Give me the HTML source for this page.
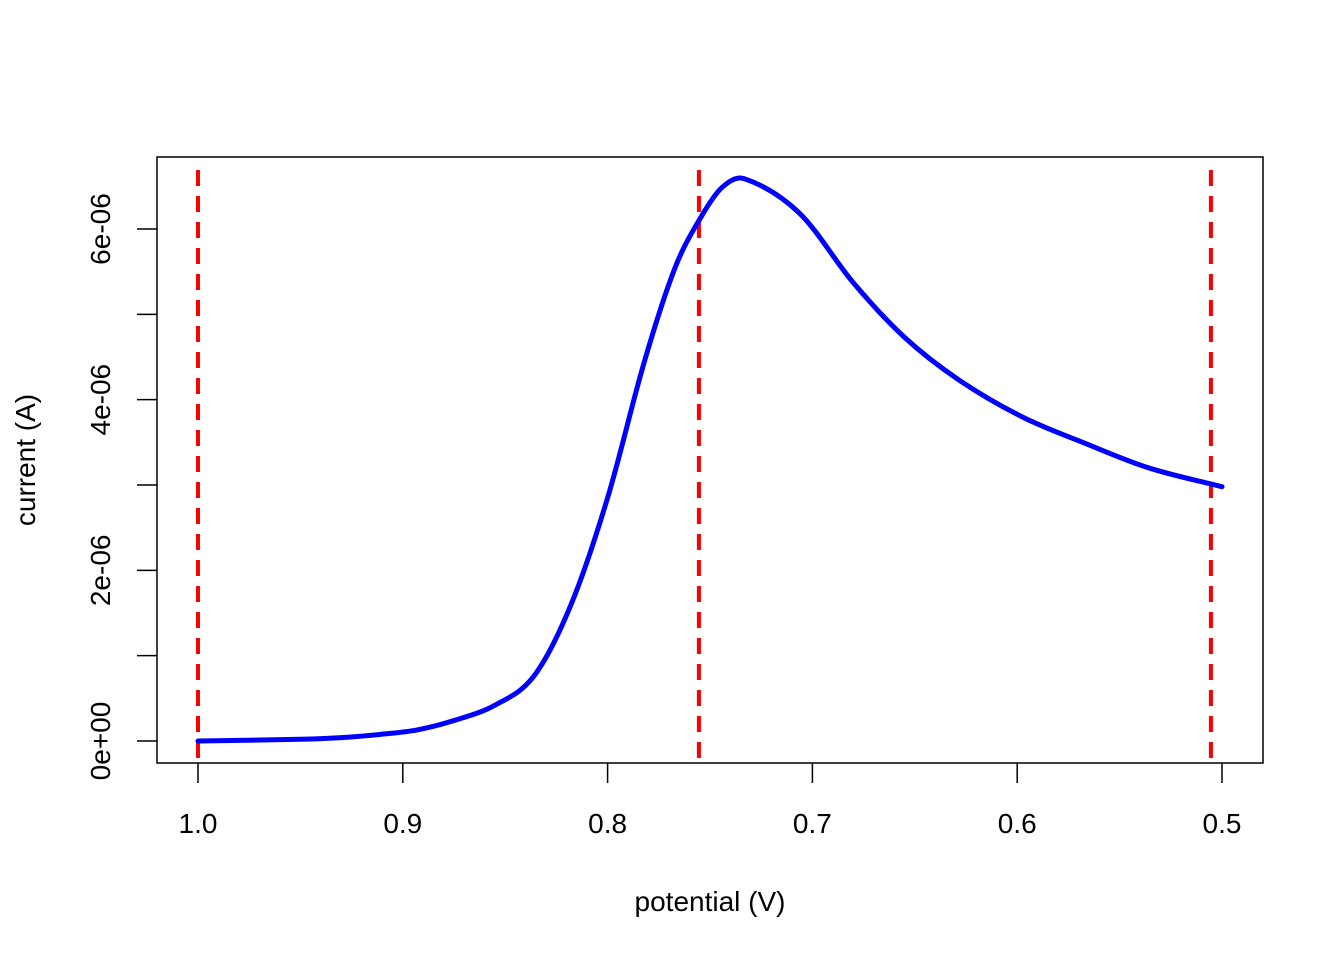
<!DOCTYPE html>
<html><head><meta charset="utf-8"><style>
html,body{margin:0;padding:0;background:#fff;}
svg{display:block;font-family:"Liberation Sans",Arial,sans-serif;}
</style></head><body>
<svg id="chart" width="1344" height="960" viewBox="0 0 1344 960" xmlns="http://www.w3.org/2000/svg">
<rect x="157" y="157" width="1106" height="606" fill="none" stroke="#000" stroke-width="1.5"/>
<g id="xaxis"></g>
<g id="yaxis"></g>
<g id="vlines"></g>
<path id="curve" fill="none" stroke="#0000ff" stroke-width="5" stroke-linejoin="round" stroke-linecap="round"/>
<text x="710" y="911" font-size="28" text-anchor="middle">potential (V)</text>
<text x="35" y="460" font-size="28" text-anchor="middle" transform="rotate(-90 35 460)">current (A)</text>
</svg>
<script>
const potentials = [1.0,0.95,0.93,0.91,0.893,0.875,0.855,0.836,0.818,0.80,0.782,0.767,0.7544,0.744,0.7334,0.7065,0.68,0.655,0.6284,0.5977,0.567,0.5357,0.5];
const currents = [0,0.02,0.04,0.08,0.13,0.24,0.42,0.76,1.59,2.85,4.45,5.55,6.14,6.49,6.59,6.19,5.37,4.73,4.23,3.80,3.49,3.20,2.98];
const xTicks = [1.0,0.9,0.8,0.7,0.6,0.5];
const xTickLabels = ["1.0","0.9","0.8","0.7","0.6","0.5"];
const yTicks = [0,1,2,3,4,5,6];
const yTickLabels = {0:"0e+00",2:"2e-06",4:"4e-06",6:"6e-06"};
const vLines = [1.0,0.7554,0.5054];

const NS="http://www.w3.org/2000/svg";
function sx(v){return 198+(1.0-v)*2048;}
function sy(c){return 741-c*85.333;}
function mk(tag,attrs,parent){const e=document.createElementNS(NS,tag);for(const k in attrs)e.setAttribute(k,attrs[k]);parent.appendChild(e);return e;}

const xa=document.getElementById('xaxis');
xTicks.forEach((t,i)=>{
  const l=mk('line',{x1:sx(t),x2:sx(t),y1:763,y2:783,stroke:'#000','stroke-width':1.5},xa);
  
  
  const tx=mk('text',{x:sx(t),y:833,'font-size':28,'text-anchor':'middle'},xa);
  tx.textContent=xTickLabels[i];
  
  
});
const ya=document.getElementById('yaxis');
yTicks.forEach(t=>{
  const l=mk('line',{x1:137,x2:157,y1:sy(t),y2:sy(t),stroke:'#000','stroke-width':1.5},ya);
  
  
  if(yTickLabels[t]!==undefined){
    const x=110,y=sy(t);
    const tx=mk('text',{x:x,y:y,'font-size':28,'text-anchor':'middle',transform:`rotate(-90 ${x} ${y})`},ya);
    tx.textContent=yTickLabels[t];
    
    
  }
});
const vl=document.getElementById('vlines');
vLines.forEach(v=>{
  const l=mk('line',{x1:sx(v),x2:sx(v),y1:170,y2:763,stroke:'#ff0000','stroke-width':4,'stroke-dasharray':'16 10'},vl);
  
  
});
// smooth curve via Catmull-Rom (uniform tangents scaled by segment length)
const pts=potentials.map((p,i)=>[sx(p),sy(currents[i])]);
let d=`M${pts[0][0]},${pts[0][1]}`;
for(let i=0;i<pts.length-1;i++){
  const p0=pts[Math.max(0,i-1)],p1=pts[i],p2=pts[i+1],p3=pts[Math.min(pts.length-1,i+2)];
  const h=p2[0]-p1[0];
  const m1=(p2[1]-p0[1])/((p2[0]-p0[0])||1), m2=(p3[1]-p1[1])/((p3[0]-p1[0])||1);
  const c1=[p1[0]+h/3,p1[1]+m1*h/3];
  const c2=[p2[0]-h/3,p2[1]-m2*h/3];
  d+=` C${c1[0]},${c1[1]} ${c2[0]},${c2[1]} ${p2[0]},${p2[1]}`;
}
document.getElementById('curve').setAttribute('d',d);
</script>
</body></html>
